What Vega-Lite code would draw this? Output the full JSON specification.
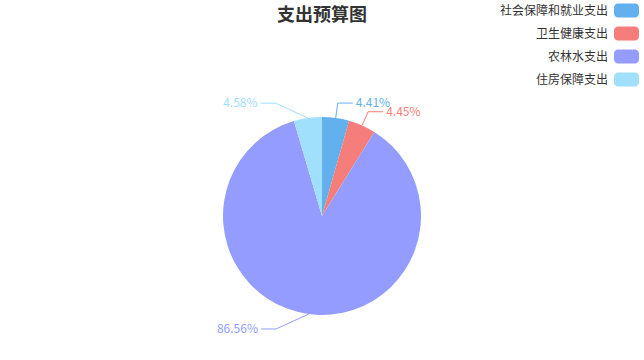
{
  "$schema": "https://vega.github.io/schema/vega-lite/v6.json",
  "width": 644,
  "height": 288,
  "autosize": {"type": "none"},
  "padding": {"top": 72, "left": 0, "right": 0, "bottom": 0},
  "background": "white",
  "title": {
    "text": "支出预算图",
    "fontSize": 18,
    "fontWeight": "bold",
    "color": "#333333",
    "font": "Noto Sans CJK SC",
    "anchor": "middle",
    "frame": "group",
    "baseline": "middle",
    "offset": -36
  },
  "data": {
    "values": [
      {"name": "社会保障和就业支出", "value": 4.41, "order": 1},
      {"name": "卫生健康支出", "value": 4.45, "order": 2},
      {"name": "农林水支出", "value": 86.56, "order": 3},
      {"name": "住房保障支出", "value": 4.58, "order": 4}
    ]
  },
  "transform": [
    {"window": [{"op": "sum", "field": "value", "as": "cum"}], "sort": [{"field": "order"}], "frame": [null, 0]},
    {"joinaggregate": [{"op": "sum", "field": "value", "as": "total"}]},
    {"calculate": "2*PI*(datum.cum - datum.value/2)/datum.total", "as": "mid"},
    {"calculate": "datum.value/datum.total", "as": "share"},
    {"calculate": "114*cos(datum.mid)", "as": "ey"},
    {"calculate": "sin(datum.mid) >= 0 ? 114*sin(datum.mid) : -sqrt(122*122 - datum.ey*datum.ey)", "as": "ex"}
  ],
  "layer": [
    {
      "mark": {"type": "arc", "outerRadius": 99},
      "encoding": {
        "theta": {"field": "value", "type": "quantitative", "stack": true},
        "order": {"field": "order", "type": "quantitative"},
        "color": {
          "field": "name",
          "type": "nominal",
          "scale": {
            "domain": ["社会保障和就业支出", "卫生健康支出", "农林水支出", "住房保障支出"],
            "range": ["#62b0ed", "#f57d7a", "#949dff", "#a1e0fc"]
          },
          "legend": {
            "orient": "none",
            "legendX": 614,
            "legendY": -74,
            "title": null,
            "padding": 0,
            "symbolType": "M-0.68,-0.56L0.68,-0.56A0.32,0.32,0,0,1,1,-0.24L1,0.24A0.32,0.32,0,0,1,0.68,0.56L-0.68,0.56A0.32,0.32,0,0,1,-1,0.24L-1,-0.24A0.32,0.32,0,0,1,-0.68,-0.56Z",
            "symbolSize": 625,
            "symbolStrokeWidth": 0,
            "symbolOpacity": 1,
            "labelFont": "Noto Sans CJK SC",
            "labelFontSize": 12,
            "labelColor": "#333333",
            "labelAlign": "right",
            "labelOffset": -31,
            "rowPadding": 3
          }
        }
      }
    },
    {
      "transform": [
        {"calculate": "[0,1,2]", "as": "pt"},
        {"flatten": ["pt"]},
        {"calculate": "datum.pt == 0 ? 99*sin(datum.mid) : (datum.pt == 1 ? datum.ex : datum.ex + (sin(datum.mid) >= 0 ? 15 : -15))", "as": "lx"},
        {"calculate": "datum.pt == 0 ? 99*cos(datum.mid) : datum.ey", "as": "ly"}
      ],
      "mark": {"type": "line", "strokeWidth": 1},
      "encoding": {
        "x": {"field": "lx", "type": "quantitative", "scale": {"domain": [-322, 322]}, "axis": null},
        "y": {"field": "ly", "type": "quantitative", "scale": {"domain": [-144, 144]}, "axis": null},
        "detail": {"field": "name"},
        "order": {"field": "pt", "type": "quantitative"},
        "stroke": {
          "field": "name",
          "type": "nominal",
          "scale": {
            "domain": ["社会保障和就业支出", "卫生健康支出", "农林水支出", "住房保障支出"],
            "range": ["#62b0ed", "#f57d7a", "#949dff", "#a1e0fc"]
          },
          "legend": null
        }
      }
    },
    {
      "transform": [
        {"filter": "sin(datum.mid) >= 0"},
        {"calculate": "datum.ex + 18", "as": "tx"}
      ],
      "mark": {"type": "text", "align": "left", "baseline": "middle", "fontSize": 12, "font": "Noto Sans CJK SC"},
      "encoding": {
        "x": {"field": "tx", "type": "quantitative", "scale": {"domain": [-322, 322]}, "axis": null},
        "y": {"field": "ey", "type": "quantitative", "scale": {"domain": [-144, 144]}, "axis": null},
        "text": {"field": "share", "type": "quantitative", "format": ".2%"},
        "fill": {
          "field": "name",
          "type": "nominal",
          "scale": {
            "domain": ["社会保障和就业支出", "卫生健康支出", "农林水支出", "住房保障支出"],
            "range": ["#62b0ed", "#f57d7a", "#949dff", "#a1e0fc"]
          },
          "legend": null
        }
      }
    },
    {
      "transform": [
        {"filter": "sin(datum.mid) < 0"},
        {"calculate": "datum.ex - 18", "as": "tx"}
      ],
      "mark": {"type": "text", "align": "right", "baseline": "middle", "fontSize": 12, "font": "Noto Sans CJK SC"},
      "encoding": {
        "x": {"field": "tx", "type": "quantitative", "scale": {"domain": [-322, 322]}, "axis": null},
        "y": {"field": "ey", "type": "quantitative", "scale": {"domain": [-144, 144]}, "axis": null},
        "text": {"field": "share", "type": "quantitative", "format": ".2%"},
        "fill": {
          "field": "name",
          "type": "nominal",
          "scale": {
            "domain": ["社会保障和就业支出", "卫生健康支出", "农林水支出", "住房保障支出"],
            "range": ["#62b0ed", "#f57d7a", "#949dff", "#a1e0fc"]
          },
          "legend": null
        }
      }
    }
  ],
  "config": {
    "view": {"stroke": null}
  }
}
